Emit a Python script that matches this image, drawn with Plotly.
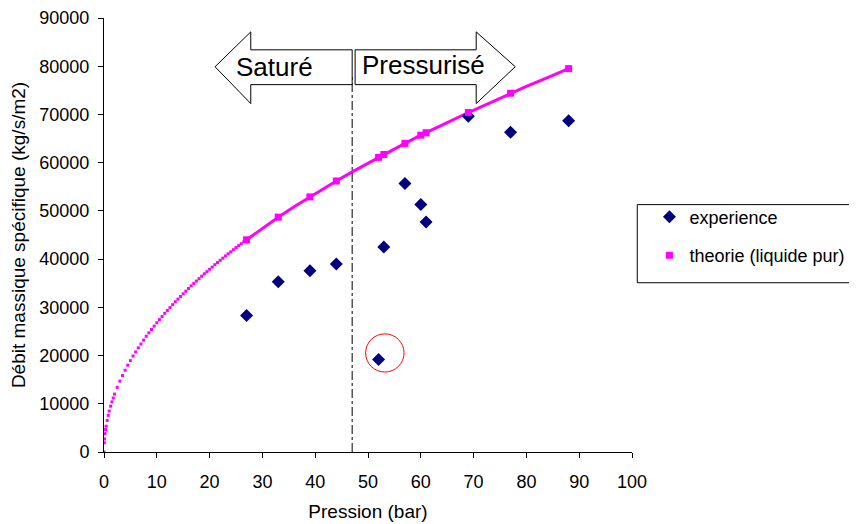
import plotly.graph_objects as go

# ---- data ----
exp_p = [27, 33, 39, 44, 52, 53, 57, 60, 61, 69, 77, 88]
exp_g = [28300, 35300, 37600, 39000, 19200, 42500, 55700, 51300, 47700, 69600, 66300, 68700]

theo_p = [27, 33, 39, 44, 52, 53, 57, 60, 61, 69, 77, 88]
theo_g = [44000, 48700, 52900, 56200, 61100, 61700, 64000, 65700, 66200, 70400, 74400, 79500]

# dense dotted part of the theoretical curve (0 -> 27 bar)
curve_low_p = [0, 0.05, 0.1, 0.2, 0.3, 0.4, 0.6, 0.8, 1.0, 1.25, 1.5, 1.75, 2.0, 2.5, 3.0, 3.5,
               4.0, 4.5, 5.0, 5.5, 6.0, 6.5, 7.0, 7.5, 8.0, 8.5, 9.0, 9.5, 10, 10.5, 11, 11.5,
               12, 12.5, 13, 13.5, 14, 14.5, 15, 15.5, 16, 16.5, 17, 17.5, 18, 18.5, 19, 19.5,
               20, 20.5, 21, 21.5, 22, 22.5, 23, 23.5, 24, 24.5, 25, 25.5, 26, 26.5, 27]
curve_low_g = [0, 1900, 2700, 3800, 4650, 5350, 6550, 7600, 8500, 9500, 10400, 11200, 12000,
               13400, 14700, 15850, 16950, 18000, 18950, 19900, 20750, 21600, 22400, 23200,
               24000, 24700, 25400, 26100, 26800, 27450, 28100, 28750, 29350, 29950, 30550,
               31150, 31700, 32250, 32800, 33350, 33900, 34450, 34950, 35450, 35950, 36450,
               36950, 37400, 37900, 38350, 38850, 39300, 39750, 40200, 40650, 41100, 41500,
               41950, 42400, 42800, 43200, 43650, 44000]

# solid part of the theoretical curve (27 -> 88 bar)
curve_high_p = [27, 30, 33, 36, 39, 42, 44, 47, 50, 52, 53, 55, 57, 60, 61, 65, 69, 73, 77, 80, 84, 88]
curve_high_g = [44000, 46400, 48700, 50850, 52900, 54900, 56200, 58100, 59900, 61100, 61700,
                62850, 64000, 65700, 66200, 68300, 70400, 72400, 74400, 75800, 77650, 79500]

x_ticks = list(range(0, 101, 10))
y_ticks = list(range(0, 90001, 10000))
y_tick_labels = [str(v) for v in y_ticks]

limit_p = 47  # saturé / pressurisé boundary

FONT = "Liberation Sans, Arial, sans-serif"
PINK = "#FF00FF"
NAVY = "#000080"

fig = go.Figure()

fig.add_trace(go.Scatter(x=curve_low_p, y=curve_low_g, mode="markers",
                         marker=dict(symbol="square", size=3, color=PINK),
                         showlegend=False, hoverinfo="skip"))
fig.add_trace(go.Scatter(x=curve_high_p, y=curve_high_g, mode="lines",
                         line=dict(color=PINK, width=3),
                         showlegend=False, hoverinfo="skip"))
fig.add_trace(go.Scatter(x=exp_p, y=exp_g, mode="markers", name="experience",
                         legendgroup="a",
                         marker=dict(symbol="diamond", size=10, color=NAVY)))
fig.add_trace(go.Scatter(x=theo_p, y=theo_g, mode="markers", name="theorie (liquide pur)",
                         legendgroup="b",
                         marker=dict(symbol="square", size=7, color=PINK)))

shapes = []
# vertical dash-dot boundary line
shapes.append(dict(type="line", xref="x", yref="y", x0=limit_p, x1=limit_p, y0=0, y1=78000,
                   line=dict(color="black", width=1, dash="dashdot")))
# left arrow "Saturé"
shapes.append(dict(type="path", xref="x", yref="y",
                   path="M 47.0 83400 L 27.8 83400 L 27.8 87120 L 21.03 79890 L 27.8 72260 "
                        "L 27.8 76180 L 47.0 76180 Z",
                   fillcolor="white", line=dict(color="black", width=1)))
# right arrow "Pressurisé"
shapes.append(dict(type="path", xref="x", yref="y",
                   path="M 47.56 83400 L 70.49 83400 L 70.49 87120 L 77.89 79890 L 70.49 72260 "
                        "L 70.49 76180 L 47.56 76180 Z",
                   fillcolor="white", line=dict(color="black", width=1)))
# red circle
shapes.append(dict(type="circle", xref="x", yref="y", x0=49.55, x1=56.83, y0=16580, y1=24500,
                   line=dict(color="red", width=1)))
# legend frame
shapes.append(dict(type="rect", xref="paper", yref="paper", x0=1.010, x1=1.427, y0=0.390, y1=0.570,
                   line=dict(color="black", width=1), fillcolor="rgba(0,0,0,0)"))

annotations = [
    dict(x=32.3, y=79800, xref="x", yref="y", text="Saturé", showarrow=False,
         font=dict(family=FONT, size=26, color="black")),
    dict(x=60.6, y=80200, xref="x", yref="y", text="Pressurisé", showarrow=False,
         font=dict(family=FONT, size=26, color="black")),
]

fig.update_layout(
    width=857, height=524,
    margin=dict(l=96, r=233, t=10, b=80, autoexpand=False),
    paper_bgcolor="white", plot_bgcolor="white",
    font=dict(family=FONT, size=19, color="black"),
    shapes=shapes, annotations=annotations,
    showlegend=True,
    legend=dict(x=1.033, y=0.584, xanchor="left", yanchor="top",
                font=dict(family=FONT, size=18, color="black"),
                bgcolor="rgba(0,0,0,0)", borderwidth=0, tracegroupgap=12),
)
fig.update_xaxes(range=[0, 100], tickvals=x_ticks, ticks="outside", ticklen=5, tickcolor="black",
                 showline=True, linecolor="black", linewidth=1, showgrid=False, zeroline=False,
                 tickfont=dict(size=18), automargin=False, ticklabelstandoff=8,
                 ticklabeloverflow="allow",
                 title=dict(text="Pression (bar)", font=dict(size=19), standoff=14))
fig.update_yaxes(range=[0, 90000], tickvals=y_ticks, ticktext=y_tick_labels,
                 ticks="outside", ticklen=5, tickcolor="black",
                 showline=True, linecolor="black", linewidth=1, showgrid=False, zeroline=False,
                 tickfont=dict(size=18), automargin=False, ticklabelstandoff=5,
                 ticklabeloverflow="allow",
                 title=dict(text="Débit massique spécifique (kg/s/m2)", font=dict(size=19), standoff=10))

fig.write_html("out.html")
